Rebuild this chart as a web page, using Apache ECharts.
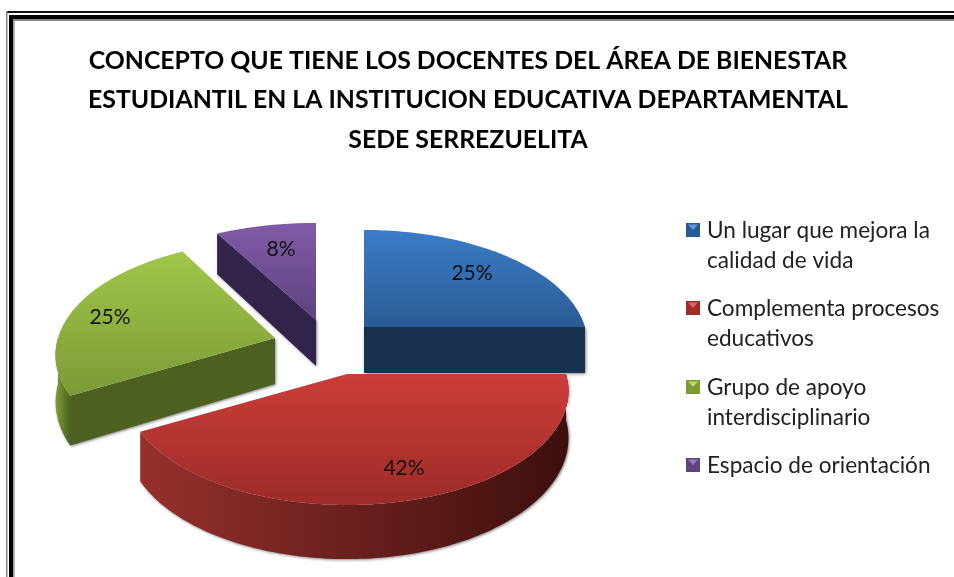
<!DOCTYPE html>
<html>
<head>
<meta charset="utf-8">
<script src="https://cdn.jsdelivr.net/npm/echarts@6/dist/echarts.min.js"></script>
<style>html,body{margin:0;background:#fff}#main{width:954px;height:577px}</style>
</head>
<body>
<div id="main"></div>
<script>
// datos
const categories = ['Un lugar que mejora la\ncalidad de vida', 'Complementa procesos\neducativos', 'Grupo de apoyo\ninterdisciplinario', 'Espacio de orientación'];
const values = [25, 42, 25, 8];
const titleText = 'CONCEPTO QUE TIENE LOS DOCENTES DEL ÁREA DE BIENESTAR\nESTUDIANTIL EN LA INSTITUCION EDUCATIVA DEPARTAMENTAL\nSEDE SERREZUELITA';

// colores por porcion: cara superior (arriba, abajo), corte, pared exterior (der, izq), leyenda
const palette = [
  {top: ['#3b7cc9', '#2b5b94'], cut: '#17304f', wall: ['#17304f', '#17304f'], key: ['#2a5a92', '#5c9ae0']},
  {top: ['#cb3d38', '#9c2b29'], cut: '#4a1412', wall: ['#3d0f0d', '#96302c'], key: ['#a02c2a', '#e0605a']},
  {top: ['#a0c74a', '#7b9b36'], cut: '#4d6020', wall: ['#4d6020', '#7f9f38'], key: ['#7b9b36', '#b8dc60']},
  {top: ['#815ba8', '#5d437f'], cut: '#32234a', wall: ['#32234a', '#32234a'], key: ['#5d437f', '#9a78c4']}
];
// vertice de cada porcion (explosion) y radio horizontal
const sliceLayout = [
  {apex: [364, 327], rx: 221, label: [108, -54], cut: 'end'},
  {apex: [347, 374], rx: 219, label: [57, 94], cut: null},
  {apex: [275, 338], rx: 217, label: [-165, -21], cut: 'start'},
  {apex: [316, 320], rx: 232, label: [-35, -71], cut: 'start'}
];
const ry = 111.5, persp = 0.149, depth = 46;
const drawOrder = [3, 0, 2, 1];

const total = values.reduce((a, b) => a + b, 0);
const fontName = 'Lato, "Noto Sans", sans-serif';

// angulo medido desde arriba en sentido horario, con perspectiva
function project(i, angle, frac) {
  const u = Math.sin(angle) * frac, v = -Math.cos(angle) * frac;
  const s = 1 / (1 - persp * v);
  const l = sliceLayout[i];
  return [l.apex[0] + l.rx * u * s, l.apex[1] + ry * v * s, s];
}
function down(p) {
  return [p[0], p[1] + depth * p[2]];
}
function arcPoints(i, a0, a1) {
  const pts = [];
  const n = Math.ceil(Math.abs(a1 - a0) / 0.02);
  for (let k = 0; k <= n; k++) pts.push(project(i, a0 + (a1 - a0) * k / n, 1));
  return pts;
}
function vGrad(c) {
  return new echarts.graphic.LinearGradient(0, 0, 0, 1, [{offset: 0, color: c[0]}, {offset: 1, color: c[1]}]);
}
function hGrad(c) {
  return new echarts.graphic.LinearGradient(0, 0, 1, 0, [{offset: 0, color: c[1]}, {offset: 1, color: c[0]}]);
}
const shadow = {shadowBlur: 3, shadowColor: 'rgba(80,80,80,0.7)', shadowOffsetX: 1, shadowOffsetY: 1};

function renderSlice(i, params, api) {
  const value = api.value(0);
  const before = values.slice(0, i).reduce((a, b) => a + b, 0);
  const a0 = before / total * Math.PI * 2;
  const a1 = a0 + value / total * Math.PI * 2;
  const apex = project(i, 0, 0);
  const arc = arcPoints(i, a0, a1);
  const children = [];

  // pared exterior: solo la parte que mira al frente
  const fa0 = Math.max(a0, Math.PI / 2), fa1 = Math.min(a1, Math.PI * 1.5);
  if (fa1 > fa0) {
    const front = arcPoints(i, fa0, fa1);
    children.push({
      type: 'polygon',
      shape: {points: front.map(p => p.slice(0, 2)).concat(front.map(down).reverse())},
      style: Object.assign({fill: hGrad(palette[i].wall)}, shadow)
    });
  }
  // cara de corte visible
  if (sliceLayout[i].cut) {
    const c = project(i, sliceLayout[i].cut === 'start' ? a0 : a1, 1);
    children.push({
      type: 'polygon',
      shape: {points: [apex.slice(0, 2), c.slice(0, 2), down(c), down(apex)]},
      style: Object.assign({fill: palette[i].cut}, shadow)
    });
  }
  // cara superior
  children.push({
    type: 'polygon',
    shape: {points: [apex.slice(0, 2)].concat(arc.map(p => p.slice(0, 2)))},
    style: {fill: vGrad(palette[i].top)}
  });
  // porcentaje
  children.push({
    type: 'text',
    style: {
      text: Math.round(value / total * 100) + '%',
      x: sliceLayout[i].apex[0] + sliceLayout[i].label[0],
      y: sliceLayout[i].apex[1] + sliceLayout[i].label[1],
      align: 'center', verticalAlign: 'middle',
      font: '21px ' + fontName, fill: '#111'
    }
  });
  return {type: 'group', children: children};
}

// leyenda: el cuadro va alineado con la primera linea, no con el centro del bloque
const legendY = [230, 308, 387, 465];
const legendGraphics = [];
categories.forEach((name, i) => {
  const y = legendY[i];
  legendGraphics.push({type: 'rect', shape: {x: 686, y: y - 7, width: 14, height: 14}, style: {fill: palette[i].key[0]}});
  legendGraphics.push({type: 'polygon', shape: {points: [[688, y - 5.5], [698, y - 5.5], [693, y]]}, style: {fill: palette[i].key[1]}});
  legendGraphics.push({
    type: 'text',
    style: {x: 707, y: y - 14, text: name, font: '22.6px ' + fontName, fill: '#222', lineHeight: 30}
  });
});

const borderGraphics = [
  {type: 'rect', shape: {x: 6, y: 11, width: 948, height: 2}, style: {fill: '#111'}},
  {type: 'rect', shape: {x: 9, y: 15, width: 945, height: 4}, style: {fill: '#000'}},
  {type: 'rect', shape: {x: 13, y: 19, width: 941, height: 2}, style: {fill: '#888'}},
  {type: 'rect', shape: {x: 6, y: 11, width: 1.5, height: 566}, style: {fill: '#888'}},
  {type: 'rect', shape: {x: 9, y: 15, width: 4.3, height: 562}, style: {fill: '#000'}},
  {type: 'rect', shape: {x: 13.3, y: 19, width: 1.4, height: 558}, style: {fill: '#999'}}
];

const chart = echarts.init(document.getElementById('main'), null, {renderer: 'canvas'});
chart.setOption({
  animation: false,
  backgroundColor: '#fff',
  title: {
    text: titleText,
    left: 463, top: 36, textAlign: 'center',
    textStyle: {fontFamily: fontName, fontWeight: 'bold', fontSize: 24.8, lineHeight: 39.5, color: '#000'}
  },
  graphic: borderGraphics.concat(legendGraphics),
  series: drawOrder.map(i => ({
    type: 'custom',
    name: categories[i],
    coordinateSystem: 'none',
    silent: true,
    data: [[values[i]]],
    renderItem: (params, api) => renderSlice(i, params, api)
  }))
});
</script>
</body>
</html>
